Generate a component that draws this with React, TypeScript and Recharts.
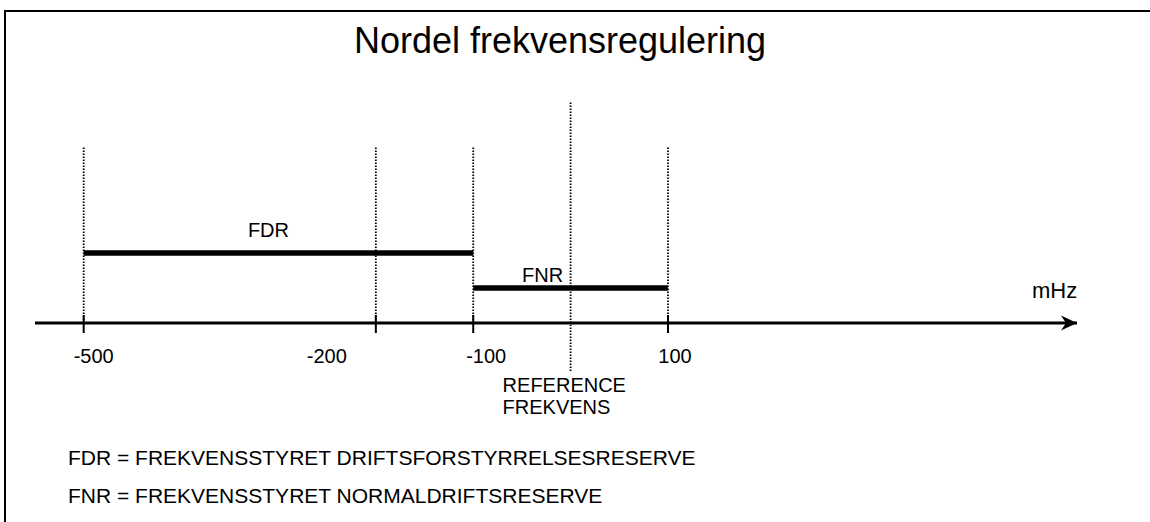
import { LineChart, XAxis, YAxis, ReferenceLine, ReferenceDot } from "recharts";

const title = "Nordel frekvensregulering";
const unitLabel = "mHz";
const tickValues = [-500, -200, -100, 100];
const referenceFrequency = 0;
const referenceLabel = ["REFERENCE", "FREKVENS"];
const bandNames = ["FDR", "FNR"];
const bandStarts = [-500, -100];
const bandEnds = [-100, 100];
const legendLines = [
  "FDR = FREKVENSSTYRET DRIFTSFORSTYRRELSESRESERVE",
  "FNR = FREKVENSSTYRET NORMALDRIFTSRESERVE",
];

// layout only (pixels above the axis line on the y side)
const W = 1150;
const H = 522;
const FONT = '"Liberation Sans", Arial, sans-serif';
const xDomain = [-550, 520];
const yDomain = [0, 223];
const guideTop = 177;
const refTop = 222;
const refBottom = -48;
const bandLevel: Record<string, number> = { FDR: 70, FNR: 35 };
const bandLabelShift: Record<string, { dx: number; dy: number }> = {
  FDR: { dx: -10, dy: -16 },
  FNR: { dx: -28, dy: -6 },
};
const tickLabelShift: Record<string, number> = {
  "-500": 10,
  "-200": -49,
  "-100": 13,
  "100": 7,
};

const dotted = { stroke: "#000", strokeWidth: 1.8, strokeDasharray: "1.5 1.5" };

function AxisTick(props: any) {
  const { x, y, payload } = props;
  const shift = tickLabelShift[String(payload.value)] ?? 0;
  return (
    <text x={x + shift} y={y + 40} textAnchor="middle" fontSize={20} fontFamily={FONT} fill="#000">
      {payload.value}
    </text>
  );
}

function Arrow(props: any) {
  const { cx, cy } = props;
  return (
    <polygon
      points={`${cx},${cy} ${cx - 16},${cy - 7.5} ${cx - 11},${cy} ${cx - 16},${cy + 7.5}`}
      fill="#000"
    />
  );
}

export default function App() {
  const chartData = bandNames.map((name, i) => ({ f: bandStarts[i], name }));

  return (
    <div style={{ position: "absolute", left: 0, top: 0, width: W, height: H, background: "#fff" }}>
      <div
        style={{
          position: "absolute",
          left: 4,
          top: 10,
          right: 0,
          bottom: 0,
          borderTop: "2px solid #000",
          borderLeft: "2px solid #000",
        }}
      />
      <LineChart
        width={W}
        height={H}
        data={chartData}
        margin={{ top: 100, right: 73, bottom: 169, left: 35 }}
        style={{ position: "absolute", left: 0, top: 0 }}
      >
        <XAxis
          type="number"
          dataKey="f"
          domain={xDomain}
          ticks={tickValues}
          interval={0}
          allowDataOverflow
          axisLine={{ stroke: "#000", strokeWidth: 3 }}
          tickLine={false}
          tickSize={0}
          tickMargin={0}
          height={30}
          tick={<AxisTick />}
        />
        <YAxis hide type="number" domain={yDomain} allowDataOverflow />

        {tickValues.map((v) => (
          <ReferenceLine
            key={`g${v}`}
            segment={[{ x: v, y: 0 }, { x: v, y: guideTop }]}
            {...dotted}
            ifOverflow="visible"
          />
        ))}
        {tickValues.map((v) => (
          <ReferenceLine
            key={`t${v}`}
            segment={[{ x: v, y: -10 }, { x: v, y: 8 }]}
            stroke="#000"
            strokeWidth={2}
            ifOverflow="visible"
          />
        ))}

        <ReferenceLine
          segment={[
            { x: referenceFrequency, y: refBottom },
            { x: referenceFrequency, y: refTop },
          ]}
          {...dotted}
          ifOverflow="visible"
          label={(p: any) => {
            const vb = p.viewBox;
            if (!vb) return null;
            const bottom = vb.y + vb.height;
            return (
              <g fontSize={20} fontFamily={FONT} fill="#000">
                {referenceLabel.map((line, i) => (
                  <text key={line} x={vb.x - 68} y={bottom + 21 + i * 22}>
                    {line}
                  </text>
                ))}
              </g>
            );
          }}
        />

        {bandNames.map((name, i) => (
          <ReferenceLine
            key={name}
            segment={[
              { x: bandStarts[i], y: bandLevel[name] },
              { x: bandEnds[i], y: bandLevel[name] },
            ]}
            stroke="#000"
            strokeWidth={5.5}
            ifOverflow="visible"
            label={(p: any) => {
              const vb = p.viewBox;
              if (!vb) return null;
              const s = bandLabelShift[name];
              return (
                <text
                  x={vb.x + vb.width / 2 + s.dx}
                  y={vb.y + s.dy}
                  textAnchor="middle"
                  fontSize={20}
                  fontFamily={FONT}
                  fill="#000"
                >
                  {name}
                </text>
              );
            }}
          />
        ))}

        <ReferenceDot x={xDomain[1]} y={0} r={0} shape={<Arrow />} ifOverflow="visible" />

        <text x={560} y={53} textAnchor="middle" fontSize={36} fontFamily={FONT} fill="#000">
          {title}
        </text>
        <text x={1032} y={298} fontSize={22} fontFamily={FONT} fill="#000">
          {unitLabel}
        </text>
        {legendLines.map((line, i) => (
          <text key={line} x={68} y={465 + i * 38} fontSize={21} fontFamily={FONT} fill="#000">
            {line}
          </text>
        ))}
      </LineChart>
    </div>
  );
}
